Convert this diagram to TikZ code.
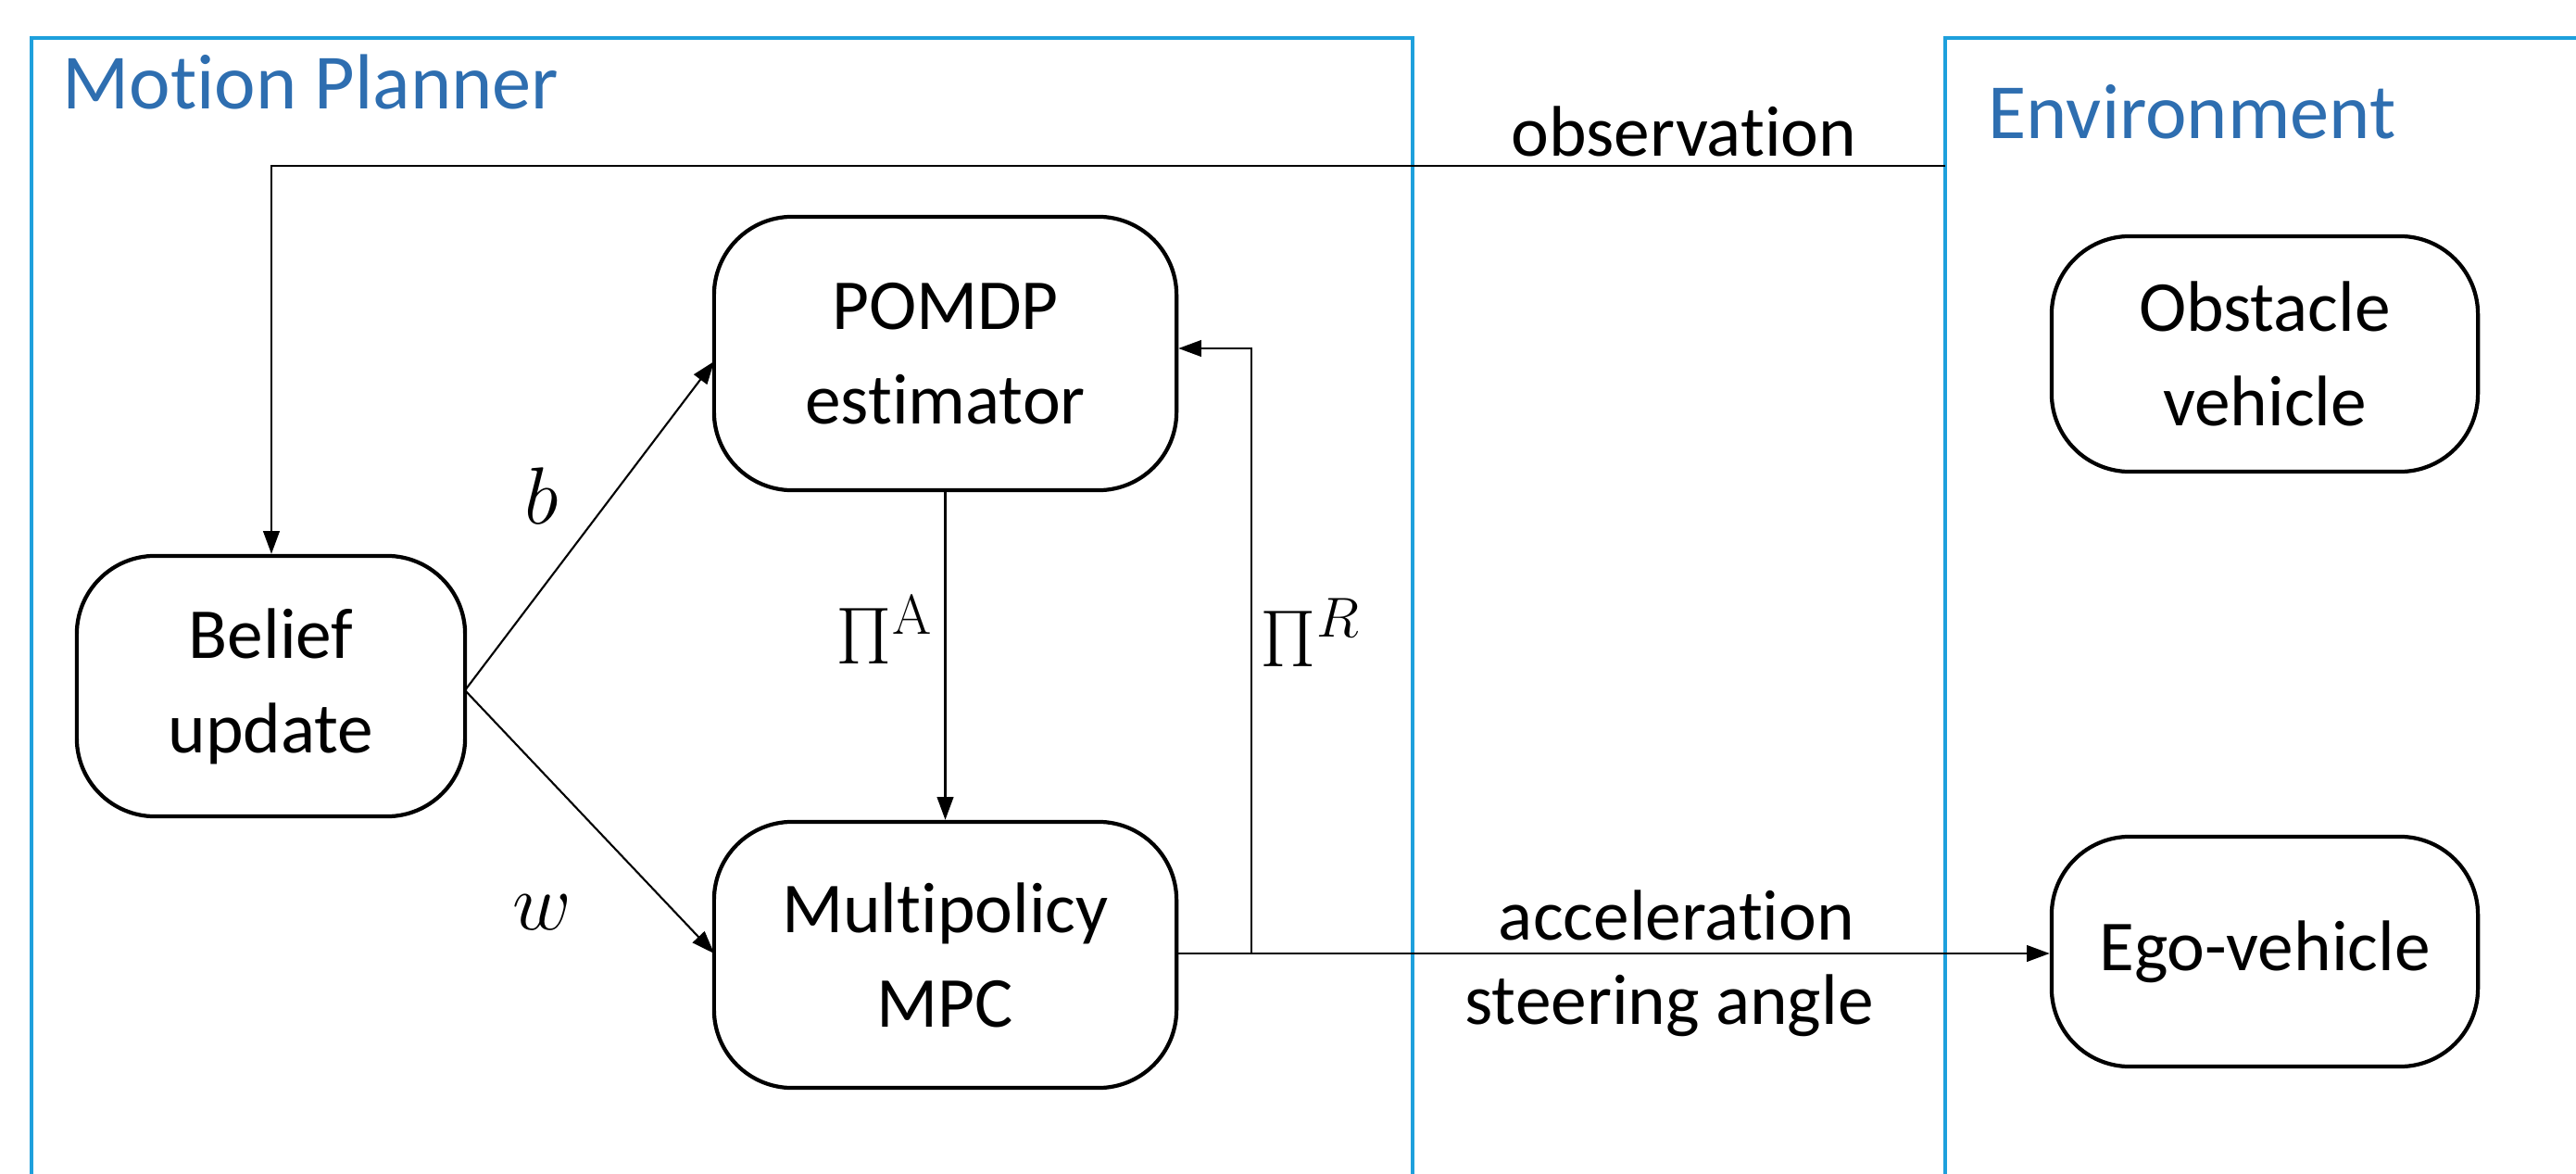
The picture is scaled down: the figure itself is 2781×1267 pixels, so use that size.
\documentclass[tikz,border=0pt]{standalone}
\usepackage[no-math]{fontspec}
\setmainfont{Carlito}[RawFeature={-liga;-clig;-calt;-dlig}]
\usetikzlibrary{arrows.meta}
\definecolor{frameblue}{RGB}{30,160,220}
\definecolor{titleblue}{RGB}{46,110,176}
\tikzset{
  box/.style={draw, line width=1.2pt, rounded corners=24pt, align=center, font=\fontsize{22}{29}\selectfont, inner sep=0pt},
  conn/.style={line width=0.6pt, -{Triangle[length=7pt,width=5pt]}},
  plain/.style={line width=0.6pt},
  frame/.style={draw=frameblue, line width=1.1pt},
  lbl/.style={font=\fontsize{22}{29}\selectfont, inner sep=0pt},
  mlbl/.style={font=\fontsize{25}{29}\selectfont, inner sep=0pt},
  title/.style={font=\fontsize{24}{29}\selectfont, text=titleblue, inner sep=0pt, anchor=west}
}
\begin{document}
\begin{tikzpicture}[x=0.01cm,y=-0.01cm]
\useasboundingbox (0,0) rectangle (2781,1267);
% frames
\draw[frame] (34,1267) -- (34,41) -- (1525,41) -- (1525,1267);
\draw[frame] (2100,1267) -- (2100,41) -- (2781,41);
\node[title] (mp) at (67,89) {Motion Planner};
\node[title] (env) at (2146,121) {Environment};
% boxes
\node[box, minimum width=4.19cm, minimum height=2.81cm] (belief) at (292.5,740.5) {Belief\\update};
\node[box, minimum width=4.99cm, minimum height=2.95cm] (pomdp) at (1020.5,381.5) {POMDP\\estimator};
\node[box, minimum width=4.99cm, minimum height=2.87cm] (mpc) at (1020.5,1030.5) {Multipolicy\\MPC};
\node[box, minimum width=4.60cm, minimum height=2.54cm] (obst) at (2445,382) {Obstacle\\vehicle};
\node[box, minimum width=4.60cm, minimum height=2.48cm] (ego) at (2445,1027) {Ego-vehicle};
% coordinates
\coordinate (obsstart) at (2100,179);
\coordinate (obscorner) at (293,179);
\coordinate (bel-out) at (502,745);
\coordinate (mpc-out) at (1270,1029);
\coordinate (fbcorner1) at (1351,1029);
\coordinate (fbcorner2) at (1351,376);
% connectors
\draw[conn] (obsstart) -- (obscorner) -- (belief.north -| obscorner);
\node[lbl] (obslbl) at (1818,142) {observation};
\draw[conn] (bel-out) -- (771,390);
\draw[conn] (bel-out) -- (771,1029);
\node[mlbl] (blbl) at (585,535) {$b$};
\node[mlbl] (wlbl) at (585,985) {$w$};
\draw[conn] (pomdp.south) -- (mpc.north);
\node[mlbl] (pialbl) at (955,680) {$\Pi^{\mathrm{A}}$};
\draw[plain] (mpc-out) -- (fbcorner1);
\draw[conn] (fbcorner1) -- (fbcorner2) -- (pomdp.east |- fbcorner2);
\node[mlbl] (pirlbl) at (1415,683) {$\Pi^{R}$};
\draw[conn] (mpc-out) -- (ego.west |- mpc-out);
\node[lbl] (acclbl) at (1810,988) {acceleration};
\node[lbl] (steerlbl) at (1802,1085) {steering angle};
\end{tikzpicture}
\end{document}
